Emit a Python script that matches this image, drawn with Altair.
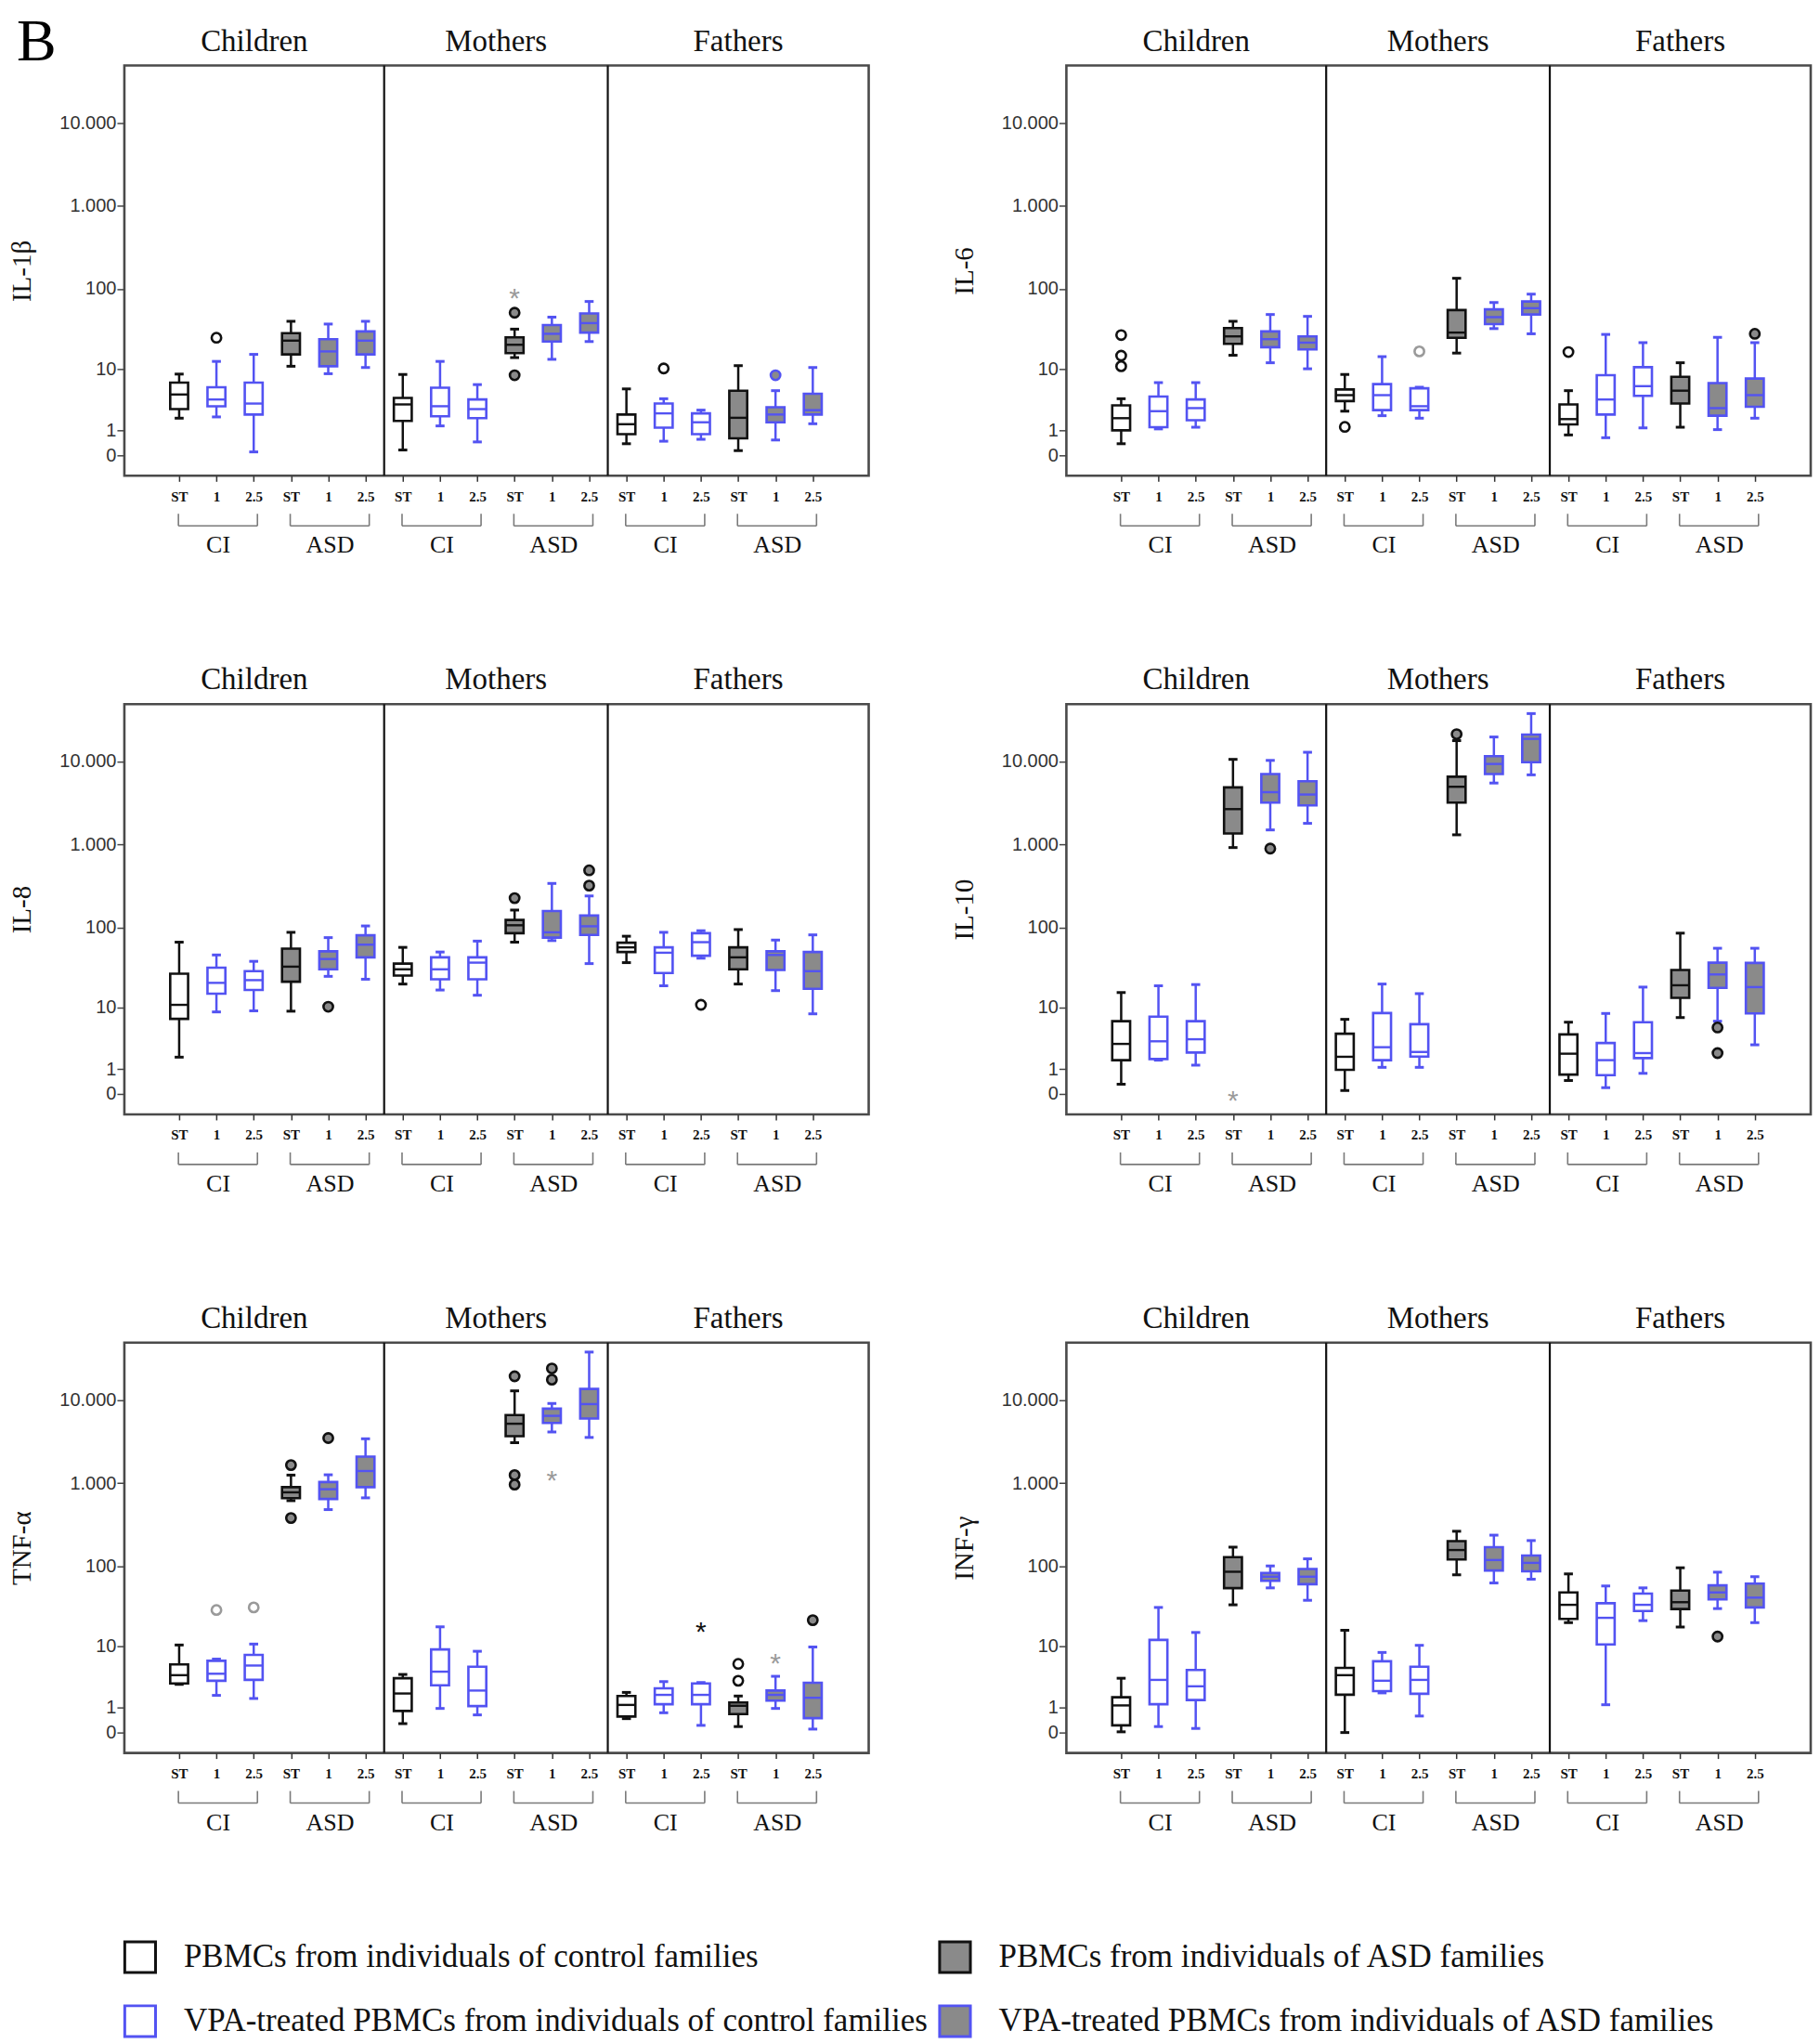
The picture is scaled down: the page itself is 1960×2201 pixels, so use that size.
import json
import pandas as pd
import altair as alt

# ---------------- categories / labels ----------------
PANEL_LETTER = "B"
GROUPS = ["Children", "Mothers", "Fathers"]
COHORTS = ["CI", "ASD"]
TREATMENTS = ["ST", "1", "2.5"]
Y_TICKS = [0, 1, 10, 100, 1000, 10000]
LEGEND_LABELS = [
    "PBMCs from individuals of control families",
    "PBMCs from individuals of ASD families",
    "VPA-treated PBMCs from individuals of control families",
    "VPA-treated PBMCs from individuals of ASD families",
]

# ---------------- box statistics (lower whisker, Q1, median, Q3, upper whisker) ----------------
# order: Children CI ST,1,2.5, ASD ST,1,2.5 | Mothers ... | Fathers ...
IL1B = [
    (1.8, 2.6, 4.4, 6.5, 8.5), (1.9, 2.9, 3.7, 5.6, 12.5), (0.1, 2.1, 3.2, 6.5, 15.4),
    (10.8, 15.4, 23, 28.5, 40), (8.6, 10.8, 16.8, 24, 37), (10.4, 15.4, 23, 30, 40),
    (0.16, 1.6, 3.1, 3.9, 8.4), (1.26, 1.95, 2.9, 5.5, 12.5), (0.45, 1.8, 2.6, 3.7, 6.1),
    (14, 16, 20.4, 25.3, 32), (13.3, 22.4, 28, 36, 45), (22.4, 29, 38, 50, 70),
    (0.38, 0.8, 1.37, 2.1, 5.3), (0.48, 1.15, 2.2, 3.2, 3.8), (0.56, 0.8, 1.5, 2.2, 2.5),
    (0.14, 0.6, 1.83, 5.0, 11), (0.53, 1.5, 2.1, 2.8, 5.0), (1.4, 2.1, 2.5, 4.5, 10.4),
]
IL6 = [
    (0.38, 1.0, 1.8, 3.0, 3.8), (1.08, 1.18, 2.4, 4.1, 6.5), (1.18, 1.65, 2.7, 3.7, 6.5),
    (15, 21, 26, 33, 40), (12, 19, 24, 30, 48.5), (10, 17.8, 21.7, 26, 46),
    (2.4, 3.5, 4.3, 5.2, 8.4), (2.0, 2.5, 4.3, 6.2, 14.4), (1.8, 2.5, 2.9, 5.4, 5.6),
    (16, 25, 29, 55, 134), (32.5, 37, 45, 56, 68), (28, 48.5, 58, 70, 86),
    (0.76, 1.36, 1.73, 3.1, 5.0), (0.63, 2.1, 3.7, 8.2, 27.5), (1.14, 4.2, 5.8, 10.5, 21.7),
    (1.18, 3.2, 5.0, 7.8, 12), (1.04, 2.0, 2.7, 6.4, 25.3), (1.8, 2.85, 4.3, 7.4, 21.7),
]
IL8 = [
    (1.77, 7.0, 10.8, 27, 66), (8.7, 15.1, 20.7, 32, 46), (9, 16.8, 22.4, 29, 38.4),
    (8.9, 21.4, 33, 55, 87), (25, 30.6, 41, 51, 75), (23, 43, 61.5, 80, 104),
    (20, 25.6, 30.6, 36, 57), (16.8, 23, 30.6, 43, 50), (14.4, 23, 37, 43, 68),
    (66, 85, 106, 123, 162), (69, 75, 87, 158, 340), (36, 81, 103, 139, 240),
    (37, 50, 57, 65, 78), (19, 27.5, 49, 57, 87), (42, 45, 66, 85, 91),
    (20, 30.6, 43, 57, 94), (16.5, 30, 46, 51, 70), (8.2, 17.4, 29, 50, 81),
]
IL10 = [
    (0.31, 1.55, 3.0, 6.5, 15.6), (1.55, 1.63, 3.3, 7.5, 19), (1.22, 2.15, 3.55, 6.5, 19.7),
    (920, 1360, 2670, 4870, 10600), (1500, 3200, 4270, 7060, 10300), (1800, 2960, 4000, 5770, 12900),
    (0.1, 0.95, 1.8, 4.3, 6.9), (1.09, 1.55, 2.65, 8.4, 20), (1.09, 1.82, 2.2, 5.9, 15.1),
    (1310, 3200, 4960, 6560, 17800), (5500, 7060, 9330, 11600, 19700), (6900, 9800, 18700, 21100, 37700),
    (0.45, 0.71, 2.05, 4.2, 6.3), (0.19, 0.68, 1.55, 3.1, 8.3), (0.77, 1.7, 2.1, 6.3, 18.3),
    (7.3, 13.3, 19.3, 30, 85), (6.5, 17.9, 26.4, 37, 55.6), (2.9, 8.3, 18.3, 36.7, 55.6),
]
TNF = [
    (2.8, 2.9, 3.9, 5.6, 10.3), (1.8, 3.2, 4.1, 6.3, 6.65), (1.57, 3.3, 5.4, 7.6, 10.6),
    (615, 660, 775, 895, 1250), (480, 645, 845, 1030, 1260), (665, 895, 1400, 2090, 3420),
    (0.28, 0.82, 1.95, 3.5, 4.0), (0.95, 2.7, 4.4, 9.0, 17.7), (0.63, 1.08, 2.2, 5.2, 8.5),
    (3070, 3670, 5190, 6600, 12900), (4130, 5300, 6460, 7880, 9100), (3550, 6000, 8940, 13600, 37800),
    (0.47, 0.56, 1.15, 1.75, 2.04), (0.73, 1.19, 1.84, 2.4, 3.1), (0.22, 1.19, 1.84, 2.9, 3.0),
    (0.18, 0.67, 1.1, 1.3, 1.75), (0.95, 1.42, 1.84, 2.2, 3.75), (0.1, 0.49, 1.62, 2.98, 9.7),
]
INF = [
    (0.02, 0.22, 1.12, 1.66, 3.5), (0.18, 1.19, 3.3, 12, 31), (0.12, 1.46, 2.6, 4.65, 15),
    (33.4, 53.6, 85, 128, 169), (54, 66, 74, 82, 100), (38, 60, 74, 92, 122),
    (0, 1.85, 3.9, 5.0, 16), (2.0, 2.15, 3.2, 6.2, 8.2), (0.58, 1.93, 3.3, 5.2, 10.2),
    (78, 120, 156, 200, 263), (62, 88, 118, 169, 236), (69, 86, 109, 134, 203),
    (20, 22.3, 33.4, 47.5, 80), (1.16, 10.5, 23, 35, 57), (21.2, 28, 33.4, 46, 54),
    (17.6, 29.6, 36, 50, 95), (30, 39, 47.5, 58, 84), (20, 31, 41, 61, 74),
]

# ---------------- outliers: (box index, value, kind o/f/*, colour k/g/b) ----------------
IL1B_OUT = [(1, 25, "o", "k"), (9, 51, "f", "k"), (9, 8.2, "f", "k"), (9, 93, "*", "g"),
            (13, 10.1, "o", "k"), (16, 8.2, "f", "b")]
IL6_OUT = [(0, 27, "o", "k"), (0, 14.8, "o", "k"), (0, 10.8, "o", "k"), (6, 1.2, "o", "k"),
           (8, 16.8, "o", "g"), (12, 16.5, "o", "k"), (17, 28, "f", "k")]
IL8_OUT = [(4, 10.2, "f", "k"), (9, 226, "f", "k"), (11, 489, "f", "k"), (11, 320, "f", "k"),
           (14, 10.8, "o", "k")]
IL10_OUT = [(3, 0, "*", "g"), (4, 895, "f", "k"), (9, 21300, "f", "k"), (16, 5.3, "f", "k"),
            (16, 2.1, "f", "k")]
TNF_OUT = [(1, 28.8, "o", "g"), (2, 31, "o", "g"), (3, 1650, "f", "k"), (3, 380, "f", "k"),
           (4, 3490, "f", "k"), (9, 19300, "f", "k"), (9, 1250, "f", "k"), (9, 960, "f", "k"),
           (10, 24000, "f", "k"), (10, 17600, "f", "k"), (10, 1290, "*", "g"), (14, 18.5, "*", "k"),
           (15, 3.2, "o", "k"), (15, 5.7, "o", "k"), (16, 7.2, "*", "g"), (17, 21.5, "f", "k")]
INF_OUT = [(16, 13.3, "f", "k")]

PANELS = [
    ("IL-1β", IL1B, IL1B_OUT), ("IL-6", IL6, IL6_OUT),
    ("IL-8", IL8, IL8_OUT), ("IL-10", IL10, IL10_OUT),
    ("TNF-α", TNF, TNF_OUT), ("INF-γ", INF, INF_OUT),
]

# ---------------- style ----------------
BLACK = "#111111"
BLUE = "#5353f2"
GRAY = "#8a8a8a"
WHITE = "#ffffff"
LIGHT = "#9a9a9a"
OUT_COLORS = {"k": BLACK, "g": LIGHT, "b": BLUE}
SERIF = "Liberation Serif"
SANS = "Liberation Sans"

W, H = 802, 442
NBOX = len(GROUPS) * len(COHORTS) * len(TREATMENTS)
XDOM = [-1.47, NBOX + 0.5]
YDOM = [-0.76, 49000]
HALF_BOX = 0.24
HALF_CAP = 0.12


def panel(name, stats, outs, first=False):
    rows = []
    for i, (lo, q1, med, q3, hi) in enumerate(stats):
        asd = (i % 6) // 3 == 1
        st = i % 3 == 0
        rows.append(dict(pos=i, lo=lo, q1=q1, med=med, q3=q3, hi=hi,
                         bl=i - HALF_BOX, br=i + HALF_BOX, cl=i - HALF_CAP, cr=i + HALF_CAP,
                         stroke=BLACK if st else BLUE, fill=GRAY if asd else WHITE))
    df = pd.DataFrame(rows)

    xs = alt.Scale(domain=XDOM, nice=False, zero=False)
    ys = alt.Scale(type="symlog", constant=1, domain=YDOM, nice=False, zero=False)
    xaxis = alt.Axis(values=list(range(NBOX)),
                     labelExpr=f"{json.dumps(TREATMENTS)}[datum.value % 3]",
                     title="", grid=False, domain=False, tickSize=6, tickColor="#333",
                     tickWidth=1.5, labelFont=SERIF, labelFontWeight="bold", labelFontSize=15,
                     labelColor="#111", labelPadding=9, labelAngle=0)
    yaxis = alt.Axis(values=Y_TICKS, labelExpr="replace(format(datum.value, ','), ',', '.')",
                     title=name, grid=False, domain=False, tickSize=8, tickColor="#444",
                     tickWidth=1.5, labelFont=SANS, labelFontSize=20, labelColor="#333",
                     labelPadding=1, titleFont=SERIF, titleFontSize=29, titleFontWeight="normal",
                     titleColor="#111", titlePadding=25)

    def X(f):
        return alt.X(f, type="quantitative", scale=xs, axis=xaxis)

    def Y(f):
        return alt.Y(f, type="quantitative", scale=ys, axis=yaxis)

    stroke = alt.Stroke("stroke:N", scale=None)
    fill = alt.Fill("fill:N", scale=None)
    base = alt.Chart(df)

    whisk = base.mark_rule(strokeWidth=2.5).encode(x=X("pos"), y=Y("lo"), y2="hi", stroke=stroke)
    cap_lo = base.mark_rule(strokeWidth=3).encode(x=X("cl"), x2="cr", y=Y("lo"), stroke=stroke)
    cap_hi = base.mark_rule(strokeWidth=3).encode(x=X("cl"), x2="cr", y=Y("hi"), stroke=stroke)
    box = base.mark_rect(strokeWidth=2.6).encode(x=X("bl"), x2="br", y=Y("q1"), y2="q3",
                                                 fill=fill, stroke=stroke)
    med = base.mark_rule(strokeWidth=2.4).encode(x=X("bl"), x2="br", y=Y("med"), stroke=stroke)

    odf = pd.DataFrame([dict(pos=p, val=v, kind=k,
                             col=OUT_COLORS[c],
                             ofill=GRAY if k == "f" else WHITE) for p, v, k, c in outs])
    circ = alt.Chart(odf).transform_filter("datum.kind != '*'").mark_point(
        shape="circle", filled=True, size=105, strokeWidth=2.6, opacity=1
    ).encode(x=X("pos"), y=Y("val"), fill=alt.Fill("ofill:N", scale=None),
             stroke=alt.Stroke("col:N", scale=None))
    star = alt.Chart(odf).transform_filter("datum.kind == '*'").mark_text(
        text="*", font=SANS, fontSize=30, baseline="alphabetic", dy=17
    ).encode(x=X("pos"), y=Y("val"), color=alt.Color("col:N", scale=None))

    # group dividers and titles
    div_df = pd.DataFrame({"d": [(g + 1) * 6 - 0.5 for g in range(len(GROUPS) - 1)]})
    dividers = alt.Chart(div_df).mark_rule(color=BLACK, strokeWidth=2.2).encode(
        x=X("d"), y=alt.value(0), y2=alt.value(H))
    edges = [XDOM[0]] + list(div_df["d"]) + [XDOM[1]]
    t_df = pd.DataFrame({"g": GROUPS,
                         "c": [(edges[k] + edges[k + 1]) / 2 for k in range(len(GROUPS))]})
    titles = alt.Chart(t_df).mark_text(font=SERIF, fontSize=33, baseline="alphabetic",
                                       color="#111").encode(
        x=X("c"), y=alt.value(-16), text="g:N")

    # brackets below axis
    b_rows = []
    for g in range(len(GROUPS)):
        for c, coh in enumerate(COHORTS):
            s = g * 6 + c * 3
            b_rows.append(dict(b1=s - 0.02, b2=s + 2.1, mid=s + 1.05, lab=coh))
    b_df = pd.DataFrame(b_rows)
    bc = "#7a7a7a"
    br_h = alt.Chart(b_df).mark_rule(color=bc, strokeWidth=1.6).encode(
        x=X("b1"), x2="b2", y=alt.value(H + 54))
    br_l = alt.Chart(b_df).mark_rule(color=bc, strokeWidth=1.6).encode(
        x=X("b1"), y=alt.value(H + 41), y2=alt.value(H + 54))
    br_r = alt.Chart(b_df).mark_rule(color=bc, strokeWidth=1.6).encode(
        x=X("b2"), y=alt.value(H + 41), y2=alt.value(H + 54))
    br_t = alt.Chart(b_df).mark_text(font=SERIF, fontSize=26, baseline="middle",
                                     color="#111").encode(
        x=X("mid"), y=alt.value(H + 75), text="lab:N")

    layers = [whisk, cap_lo, cap_hi, box, med, circ, star, dividers, titles,
              br_h, br_l, br_r, br_t]
    if first:
        letter = alt.Chart(pd.DataFrame({"t": [PANEL_LETTER]})).mark_text(
            font=SERIF, fontSize=64, align="left", baseline="alphabetic", color="#000"
        ).encode(x=alt.value(-116), y=alt.value(-6), text="t:N")
        layers.append(letter)
    return alt.layer(*layers).properties(
        width=W, height=H, view=alt.ViewBackground(stroke="#4a4a4a", strokeWidth=2.6))


charts = [panel(n, s, o, first=(k == 0)) for k, (n, s, o) in enumerate(PANELS)]

# ---------------- legend ----------------
leg_df = pd.DataFrame([dict(label=l, col=i % 2, row=i // 2,
                            s=BLACK if i // 2 == 0 else BLUE,
                            f=WHITE if i % 2 == 0 else GRAY)
                       for i, l in enumerate(LEGEND_LABELS)])
lx = alt.Scale(domain=[0, 1], range=[17, 895])
ly = alt.Scale(domain=[0, 1], range=[-26, 43])
leg_sq = alt.Chart(leg_df).mark_point(shape="square", filled=True, size=1100,
                                       strokeWidth=3, opacity=1).encode(
    x=alt.X("col:Q", scale=lx, axis=None), y=alt.Y("row:Q", scale=ly, axis=None),
    fill=alt.Fill("f:N", scale=None), stroke=alt.Stroke("s:N", scale=None))
leg_tx = alt.Chart(leg_df).mark_text(font=SERIF, fontSize=35, align="left", baseline="middle",
                                      dx=47, color="#111").encode(
    x=alt.X("col:Q", scale=lx, axis=None), y=alt.Y("row:Q", scale=ly, axis=None),
    text="label:N")
legend = alt.layer(leg_sq, leg_tx).properties(
    width=W, height=62, view=alt.ViewBackground(stroke="transparent"))

chart = alt.concat(*charts, legend, columns=2, spacing={"row": 246, "column": 213},
                   bounds="flush").properties(
    padding={"left": 0, "top": 3, "right": 0, "bottom": 2}
).configure(background="white", font=SERIF)

chart.save("out.html", embed_options={"renderer": "svg", "actions": False})
